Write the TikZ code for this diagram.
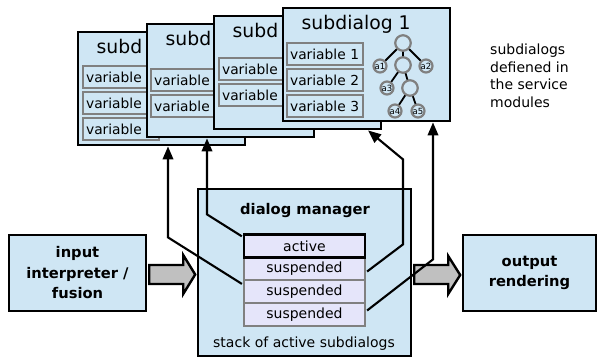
\documentclass[tikz,border=0pt]{standalone}
\usepackage{fontspec}
\setmainfont{DejaVu Sans}
\usetikzlibrary{calc,arrows.meta}
\definecolor{lblue}{RGB}{207,230,244}
\definecolor{lav}{RGB}{229,229,250}
\definecolor{vgray}{RGB}{128,128,128}
\definecolor{agray}{RGB}{192,192,192}
\begin{document}
\begin{tikzpicture}[x=1pt,y=-1pt,
  win/.style={draw=black, line width=2.4pt, fill=lblue, minimum width=167pt, minimum height=113pt, inner sep=0pt, anchor=north west},
  wtitle/.style={anchor=base west, inner sep=0pt, font=\fontsize{18.8}{22}\selectfont},
  var/.style={draw=vgray, line width=2.2pt, fill=lblue, anchor=north west, text width=70pt, inner xsep=3pt, inner ysep=0pt, minimum height=22pt, align=left, font=\fontsize{13.8}{16}\selectfont},
  tnode/.style={circle, draw=vgray, line width=2.2pt, fill=lblue, inner sep=0pt, minimum size=15.5pt},
  leaf/.style={tnode, minimum size=13pt, font=\fontsize{8.5}{9}\selectfont},
  tedge/.style={line width=1.8pt, black},
  stk/.style={draw=vgray, line width=2.2pt, fill=lav, minimum width=121pt, minimum height=23pt, inner sep=0pt, font=\fontsize{14}{16}\selectfont},
  bigbox/.style={draw=black, line width=2.4pt, fill=lblue, inner sep=0pt, align=center, font=\bfseries\fontsize{14.7}{20.5}\selectfont},
  barrow/.style={draw=black, line width=2.4pt, fill=agray, line join=miter},
  conn/.style={draw=black, line width=2.1pt, -{Triangle[length=13pt,width=10.5pt]}},
  plain/.style={inner sep=0pt, font=\fontsize{14}{17.7}\selectfont}
]
\useasboundingbox (0,0) rectangle (597,360);

% window 4
\node[win] (w4) at (77,31) {};
\node[wtitle] (t4) at ($(w4.north west)+(19.5,22.5)$) {subd};
\node[var] (v41) at ($(w4.north west)+(5,34)$) {variable};
\node[var] (v42) at ($(w4.north west)+(5,60)$) {variable};
\node[var] (v43) at ($(w4.north west)+(5,86)$) {variable};
% window 3
\node[win] (w3) at (146,23) {};
\node[wtitle] (t3) at ($(w3.north west)+(19.5,22.5)$) {subd};
\node[var] (v31) at ($(w3.north west)+(4,45)$) {variable};
\node[var] (v32) at ($(w3.north west)+(4,71)$) {variable};
% window 2
\node[win] (w2) at (213,15) {};
\node[wtitle] (t2) at ($(w2.north west)+(19.5,22.5)$) {subd};
\node[var] (v21) at ($(w2.north west)+(5,42)$) {variable};
\node[var] (v22) at ($(w2.north west)+(5,68)$) {variable};
% window 1
\node[win] (w1) at (282,7) {};
\node[wtitle] (t1) at ($(w1.north west)+(19.5,22.5)$) {subdialog 1};
\node[var] (v11) at ($(w1.north west)+(4,35)$) {variable 1};
\node[var] (v12) at ($(w1.north west)+(4,61)$) {variable 2};
\node[var] (v13) at ($(w1.north west)+(4,87)$) {variable 3};
% tree
\coordinate (tr) at ($(w1.north west)+(121,36)$);
\coordinate (tm) at ($(w1.north west)+(121,58)$);
\coordinate (tn) at ($(w1.north west)+(128,81)$);
\draw[tedge] (tr) -- ($(w1.north west)+(98,59)$);
\draw[tedge] (tr) -- ($(w1.north west)+(144,59)$);
\draw[tedge] (tr) -- (tm);
\draw[tedge] (tm) -- ($(w1.north west)+(105,81)$);
\draw[tedge] (tm) -- (tn);
\draw[tedge] (tn) -- ($(w1.north west)+(113,104)$);
\draw[tedge] (tn) -- ($(w1.north west)+(136,104)$);
\node[tnode] (nr) at (tr) {};
\node[tnode] (nm) at (tm) {};
\node[tnode] (nn) at (tn) {};
\node[leaf] (a1) at ($(w1.north west)+(98,59)$) {a1};
\node[leaf] (a2) at ($(w1.north west)+(144,59)$) {a2};
\node[leaf] (a3) at ($(w1.north west)+(105,81)$) {a3};
\node[leaf] (a4) at ($(w1.north west)+(113,104)$) {a4};
\node[leaf] (a5) at ($(w1.north west)+(136,104)$) {a5};

% side note
\node[plain, anchor=north west, align=left] (note) at (490,43.5) {subdialogs\\defiened in\\the service\\modules};

% dialog manager
\node[bigbox, minimum width=213pt, minimum height=167pt] (dm) at (304.5,272.5) {};
\node[inner sep=0pt, font=\bfseries\fontsize{14.7}{17}\selectfont] (dmt) at (305,210) {dialog manager};
\node[plain] (stl) at (304,344) {stack of active subdialogs};
\node[stk] (s1) at (304.5,268.5) {suspended};
\node[stk] (s2) at (304.5,291.5) {suspended};
\node[stk] (s3) at (304.5,314.5) {suspended};
\node[stk, draw=black, line width=2.4pt] (act) at (304.5,246) {active};

% input / output
\node[bigbox, minimum width=137pt, minimum height=76pt] (input) at (77.5,273) {input\\interpreter /\\fusion};
\node[bigbox, minimum width=133pt, minimum height=76pt] (output) at (529.5,273) {output\\rendering};

% block arrows
\draw[barrow, shift={(input.east)}] (2,-8) -- (36,-8) -- (36,-18) -- (48,1.5) -- (36,21) -- (36,11) -- (2,11) -- cycle;
\draw[barrow, shift={(dm.east)}] (2,-7.5) -- (36,-7.5) -- (36,-16.5) -- (48,2.5) -- (36,21.5) -- (36,11.5) -- (2,11.5) -- cycle;

% connectors
\draw[conn] ($(act.north west)+(-1,3)$) -- ($(w3.south west)+(61,76)$) -- ($(w3.south west)+(61,0)$);
\draw[conn] ($(s2.north west)+(-1,5)$) -- ($(w4.south west)+(91,91)$) -- ($(w4.south west)+(91,0)$);
\draw[conn] ($(s1.east)+(1,3)$) -- ($(w2.south west)+(190,114)$) -- ($(w2.south west)+(190,29)$) -- ($(w2.south west)+(155,0)$);
\draw[conn] ($(s3.east)+(1,-4)$) -- ($(w1.south west)+(151,137)$) -- ($(w1.south west)+(151,0)$);
\end{tikzpicture}
\end{document}
